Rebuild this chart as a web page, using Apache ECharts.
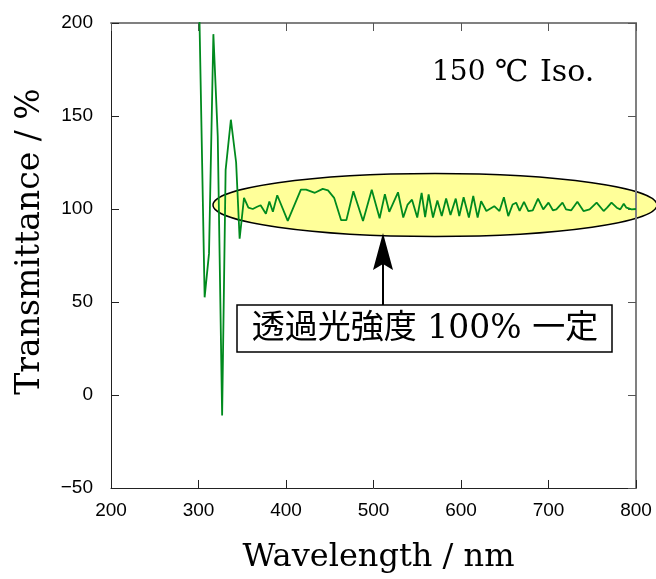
<!DOCTYPE html>
<html lang="ja" style="height: 100%">
<head>
  <meta charset="utf-8">
</head>
<body style="height: 100%; margin: 0; background: #fff">
  <div id="container" style="width: 656px; height: 579px"></div>

  <script type="text/javascript" src="https://fastly.jsdelivr.net/npm/echarts@6.0.0/dist/echarts.min.js"></script>

  <script type="text/javascript">
    var dom = document.getElementById('container');
    var myChart = echarts.init(dom, null, { renderer: 'canvas' });

// wavelength (nm) / transmittance (%)
let wavelength = [300, 307, 312, 317, 322, 327, 331, 337, 343, 347,
  352, 357, 362, 367, 371, 377, 381, 385, 390, 402,
  417, 423, 433, 442, 448, 455, 463, 469, 477, 488,
  498, 507, 513, 518, 528, 534, 539, 544, 550, 555,
  559, 563, 568, 573, 578, 583, 588, 594, 598, 603,
  609, 614, 619, 623, 629, 638, 644, 649, 654, 659,
  663, 667, 672, 677, 682, 688, 694, 700, 705, 709,
  716, 720, 726, 733, 740, 747, 755, 763, 767, 772,
  778, 782, 786, 789, 795, 800];
let transmittance = [230, 52.5, 76, 194, 139, -11, 121, 148, 125, 84,
  106, 100.7, 100, 101.2, 102, 97.5, 104, 98.5, 107.4, 93.6,
  110.4, 110.4, 108.7, 110.8, 110, 106, 94, 94, 109.5, 93.6,
  110.4, 95, 108, 98.5, 109, 95.4, 102.4, 105, 95.4, 108.7,
  95.6, 107.8, 95.4, 104.6, 96.2, 105.6, 96.8, 105.6, 96.2, 106.3,
  95.4, 107, 95.4, 104.2, 98.9, 101.5, 98.9, 106.3, 96.2, 102.4,
  103.4, 99, 103.8, 98.9, 99.3, 105.6, 99.8, 103.4, 99.3, 99.8,
  103.4, 99.8, 99.3, 103.9, 98.9, 99.8, 103.4, 98.9, 100.7, 103.4,
  100.7, 99.8, 102.8, 100.7, 99.8, 100];

let xTicks = { min: 200, max: 800, step: 100 };
let yTicks = { min: -50, max: 200, step: 50 };

let seriesData = wavelength.map(function (w, i) { return [w, transmittance[i]]; });

var serif = '"DejaVu Serif", "Liberation Serif", "Noto Sans CJK JP", serif';
var narrow = '"Liberation Sans Narrow", "Liberation Sans", Arial, sans-serif';

var option = {
    backgroundColor: '#ffffff',
    animation: false,
    grid: {
        left: 111,
        right: 20,
        top: 23,
        bottom: 89,
    },
    xAxis: [
        {
            type: 'value',
            min: xTicks.min,
            max: xTicks.max,
            interval: xTicks.step,
            name: 'Wavelength / nm',
            nameLocation: 'middle',
            nameGap: 54,
            nameTextStyle: {
                fontFamily: serif,
                fontSize: 32,
                color: '#000',
                padding: [0, 0, 0, 10],
            },
            axisLine: { onZero: false, lineStyle: { color: '#222', width: 1 } },
            axisTick: { inside: true, length: 8, lineStyle: { color: '#222' } },
            axisLabel: {
                margin: 13,
                fontFamily: narrow,
                fontSize: 19,
                color: '#000',
            },
            splitLine: { show: false },
        },
        {
            type: 'value',
            position: 'top',
            min: xTicks.min,
            max: xTicks.max,
            interval: xTicks.step,
            axisLine: { onZero: false, lineStyle: { color: '#808080', width: 2 } },
            axisTick: { inside: true, length: 8, lineStyle: { color: '#555' } },
            axisLabel: { show: false },
            splitLine: { show: false },
        },
    ],
    yAxis: [
        {
            type: 'value',
            min: yTicks.min,
            max: yTicks.max,
            interval: yTicks.step,
            name: 'Transmittance / %',
            nameLocation: 'middle',
            nameGap: 64,
            nameTextStyle: {
                fontFamily: serif,
                fontSize: 33,
                color: '#000',
                padding: [0, 0, 0, 28],
            },
            axisLine: { onZero: false, lineStyle: { color: '#222', width: 1 } },
            axisTick: { inside: true, length: 8, lineStyle: { color: '#222' } },
            axisLabel: {
                margin: 18,
                fontFamily: narrow,
                fontSize: 19,
                color: '#000',
                formatter: function (v) { return String(v).replace('-', '\u2212'); },
            },
            splitLine: { show: false },
        },
        {
            type: 'value',
            position: 'right',
            min: yTicks.min,
            max: yTicks.max,
            interval: yTicks.step,
            axisLine: { onZero: false, lineStyle: { color: '#808080', width: 2 } },
            axisTick: { inside: true, length: 8, lineStyle: { color: '#555' } },
            axisLabel: { show: false },
            splitLine: { show: false },
        },
    ],
    graphic: [
        {
            type: 'ellipse',
            z: 0,
            shape: { cx: 435, cy: 205, rx: 222, ry: 31.5 },
            style: { fill: '#ffff99', stroke: '#000', lineWidth: 1.5 },
        },
        {
            type: 'line',
            z: 10,
            shape: { x1: 383, y1: 305, x2: 383, y2: 262 },
            style: { stroke: '#000', lineWidth: 2 },
        },
        {
            type: 'polygon',
            z: 10,
            shape: { points: [[383, 233], [373, 270], [383, 264], [393, 270]] },
            style: { fill: '#000' },
        },
        {
            type: 'rect',
            z: 10,
            shape: { x: 237, y: 305, width: 375, height: 47 },
            style: { fill: '#fff', stroke: '#000', lineWidth: 1.5 },
        },
        {
            type: 'text',
            z: 11,
            x: 425,
            y: 329,
            style: {
                text: '透過光強度 100% 一定',
                fontFamily: serif,
                fontSize: 33,
                fill: '#000',
                align: 'center',
                verticalAlign: 'middle',
            },
        },
        {
            type: 'text',
            z: 11,
            x: 432,
            y: 73,
            style: {
                text: '150',
                fontFamily: serif,
                fontSize: 28,
                fill: '#000',
                verticalAlign: 'middle',
            },
        },
        {
            type: 'text',
            z: 11,
            x: 495,
            y: 73,
            style: {
                text: '℃',
                fontFamily: serif,
                fontSize: 30,
                fill: '#000',
                verticalAlign: 'middle',
            },
        },
        {
            type: 'text',
            z: 11,
            x: 540,
            y: 73,
            style: {
                text: 'Iso.',
                fontFamily: serif,
                fontSize: 30,
                fill: '#000',
                verticalAlign: 'middle',
            },
        },
    ],
    series: [
        {
            name: 'Transmittance',
            type: 'line',
            z: 5,
            clip: true,
            symbol: 'none',
            lineStyle: {
                color: '#008a1e',
                width: 1.8,
            },
            data: seriesData,
        },
    ],
};

    if (option && typeof option === 'object') {
      myChart.setOption(option);
    }

    window.addEventListener('resize', myChart.resize);
  </script>
</body>
</html>
